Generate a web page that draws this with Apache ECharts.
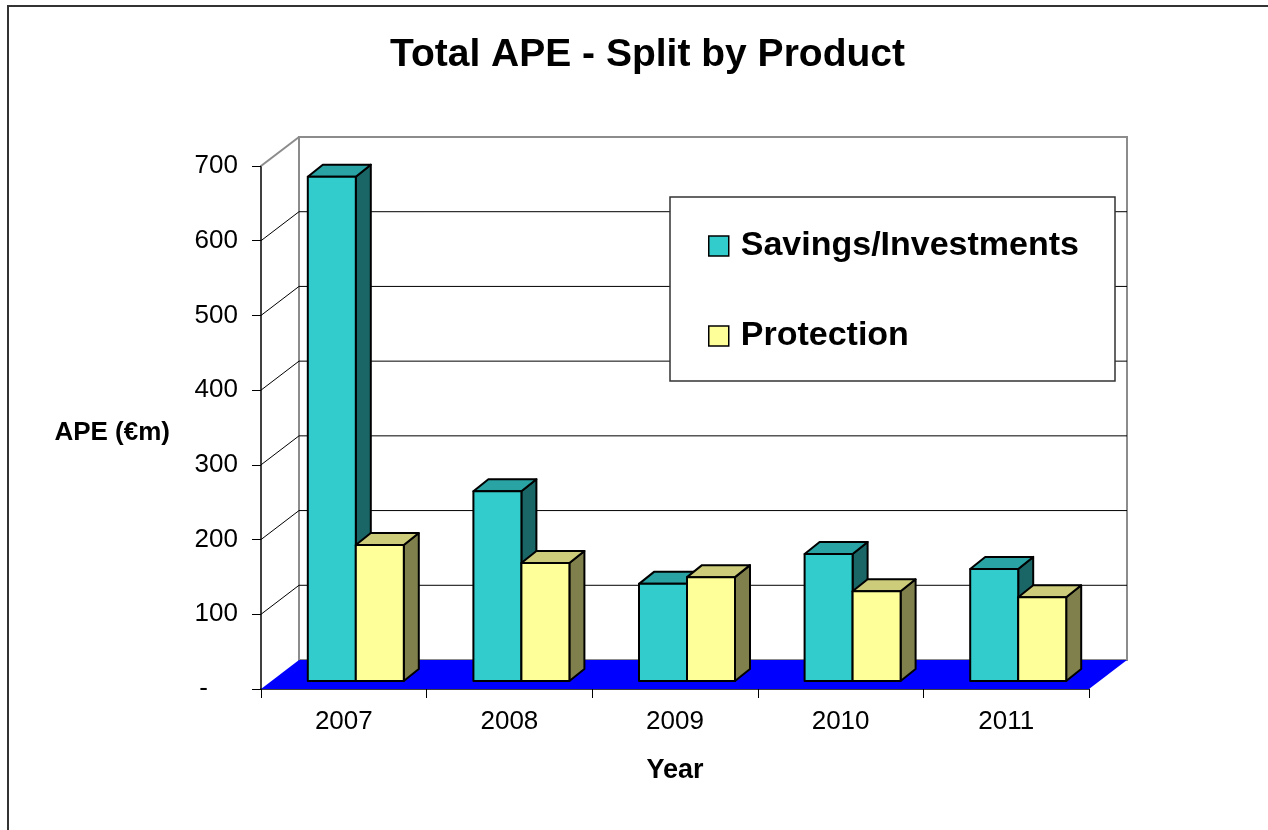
<!DOCTYPE html>
<html>
<head>
<meta charset="utf-8">
<script src="https://cdn.jsdelivr.net/npm/echarts@6/dist/echarts.min.js"></script>
<style>
html,body{margin:0;padding:0;background:#fff;}
#chart{width:1268px;height:830px;}
</style>
</head>
<body>
<div id="chart"></div>
<script>
// ---- data ----
const categories = ['2007', '2008', '2009', '2010', '2011'];
const savingsValues = [675, 254, 130, 170, 150];
const protectionValues = [182, 158, 139, 120, 112];
const yTicks = [0, 100, 200, 300, 400, 500, 600, 700];
const seriesNames = ['Savings/Investments', 'Protection'];

// ---- style constants (pixels) ----
const FONT = 'Liberation Sans, Arial, sans-serif';
const WALL_DX = 38, WALL_DY = -29;   // depth of the floor / walls
const BAR_OY = -8;                   // bars sit a little behind the front edge
const BAR_DX = 15, BAR_DY = -12;     // bar depth
const BAR_W = 48;

const colors = {
  savings: { front: '#33CCCC', top: '#29A3A3', side: '#1A6666' },
  protection: { front: '#FFFF99', top: '#CCCC7A', side: '#80804D' }
};

function barRenderer(offsetLeft, pal) {
  return function (params, api) {
    const idx = api.value(0);
    const v = api.value(1);
    const base = api.coord([idx, 0]);
    const top = api.coord([idx, v]);
    const x0 = base[0] + offsetLeft;
    const x1 = x0 + BAR_W;
    const yb = base[1] + BAR_OY;
    const yt = top[1] + BAR_OY;
    const st = { stroke: '#000', lineWidth: 2, lineJoin: 'round' };
    return {
      type: 'group',
      children: [
        { type: 'polygon', shape: { points: [[x1, yt], [x1 + BAR_DX, yt + BAR_DY], [x1 + BAR_DX, yb + BAR_DY], [x1, yb]] },
          style: Object.assign({ fill: pal.side }, st) },
        { type: 'polygon', shape: { points: [[x0, yt], [x1, yt], [x1 + BAR_DX, yt + BAR_DY], [x0 + BAR_DX, yt + BAR_DY]] },
          style: Object.assign({ fill: pal.top }, st) },
        { type: 'rect', shape: { x: x0, y: yt, width: BAR_W, height: yb - yt },
          style: Object.assign({ fill: pal.front }, st) }
      ]
    };
  };
}

function wallRenderer(params, api) {
  const cs = params.coordSys;
  const v = api.value(1);
  const y = api.coord([0, v])[1];
  const x0 = cs.x, x1 = cs.x + cs.width;
  const topY = cs.y;
  const children = [];
  if (v === 0) {
    children.push({ type: 'rect', shape: { x: x0 + WALL_DX, y: topY + WALL_DY, width: cs.width, height: y - topY },
      style: { fill: '#fff', stroke: '#8c8c8c', lineWidth: 2 } });
    children.push({ type: 'polygon', shape: { points: [[x0, y], [x1, y], [x1 + WALL_DX, y + WALL_DY], [x0 + WALL_DX, y + WALL_DY]] },
      style: { fill: '#0000FF', stroke: null } });
  } else if (v === yTicks[yTicks.length - 1]) {
    children.push({ type: 'line', shape: { x1: x0, y1: y, x2: x0 + WALL_DX, y2: y + WALL_DY },
      style: { stroke: '#8c8c8c', lineWidth: 2 } });
  } else {
    children.push({ type: 'polyline', shape: { points: [[x0, y], [x0 + WALL_DX, y + WALL_DY], [x1 + WALL_DX, y + WALL_DY]] },
      style: { stroke: '#000', lineWidth: 1, fill: null } });
  }
  return { type: 'group', children: children };
}

const chart = echarts.init(document.getElementById('chart'), null, { renderer: 'canvas' });

const option = {
  backgroundColor: '#fff',
  animation: false,
  title: {
    text: 'Total APE - Split by Product',
    left: 390, top: 36, padding: 0,
    textStyle: { fontFamily: FONT, fontSize: 39, fontWeight: 'bold', color: '#000' }
  },
  grid: { left: 261, right: 179, top: 166, bottom: 141, containLabel: false },
  legend: {
    data: seriesNames,
    orient: 'vertical',
    left: 708, top: 229,
    padding: 0,
    itemWidth: 20, itemHeight: 20,
    itemGap: 56,
    icon: 'rect',
    itemStyle: { borderColor: '#000', borderWidth: 1.5 },
    textStyle: { fontFamily: FONT, fontSize: 34, fontWeight: 'bold', color: '#000', lineHeight: 34, padding: [0, 0, 0, 7] },
    selectedMode: false,
    z: 10
  },
  graphic: [
    { type: 'rect', shape: { x: 8, y: 6, width: 1300, height: 900 },
      style: { fill: null, stroke: '#333', lineWidth: 2 }, z: 0, silent: true },
    { type: 'rect', shape: { x: 670, y: 197, width: 445, height: 184 },
      style: { fill: '#fff', stroke: '#333', lineWidth: 1.5 }, z: 5, silent: true }
  ],
  xAxis: {
    type: 'category',
    data: categories,
    boundaryGap: true,
    name: 'Year',
    nameLocation: 'middle',
    nameGap: 68,
    nameTextStyle: { fontFamily: FONT, fontSize: 27, fontWeight: 'bold', color: '#000' },
    axisLine: { show: true, lineStyle: { color: '#000', width: 1.5 } },
    axisTick: { show: true, length: 9, lineStyle: { color: '#000', width: 1 } },
    axisLabel: { fontFamily: FONT, fontSize: 26, color: '#000', margin: 20 },
    splitLine: { show: false }
  },
  yAxis: {
    type: 'value',
    min: 0, max: 700, interval: 100,
    name: '{n|APE (€m)}',
    nameLocation: 'middle',
    nameRotate: 0,
    nameGap: 91,
    nameTextStyle: {
      fontFamily: FONT, fontSize: 26, fontWeight: 'bold', color: '#000',
      rich: { n: { fontFamily: FONT, fontSize: 26, fontWeight: 'bold', color: '#000', padding: [10, 0, 0, 0] } }
    },
    axisLine: { show: true, lineStyle: { color: '#000', width: 1.5 } },
    axisTick: { show: true, length: 9, lineStyle: { color: '#000', width: 1 } },
    axisLabel: {
      fontFamily: FONT, fontSize: 26, color: '#000', margin: 23,
      formatter: function (v) { return v === 0 ? '{z|-}' : String(v); },
      rich: { z: { fontFamily: FONT, fontSize: 26, color: '#000', padding: [0, 30, 0, 0] } }
    },
    splitLine: { show: false }
  },
  series: [
    {
      name: 'walls', type: 'custom', silent: true, z: 1,
      renderItem: wallRenderer,
      data: yTicks.map(function (v) { return [0, v]; }),
      clip: false
    },
    {
      name: seriesNames[0], type: 'custom', z: 2,
      itemStyle: { color: colors.savings.front },
      renderItem: barRenderer(-36, colors.savings),
      data: savingsValues.map(function (v, i) { return [i, v]; }),
      clip: false
    },
    {
      name: seriesNames[1], type: 'custom', z: 2,
      itemStyle: { color: colors.protection.front },
      renderItem: barRenderer(12, colors.protection),
      data: protectionValues.map(function (v, i) { return [i, v]; }),
      clip: false
    }
  ]
};

chart.setOption(option);
</script>
</body>
</html>
